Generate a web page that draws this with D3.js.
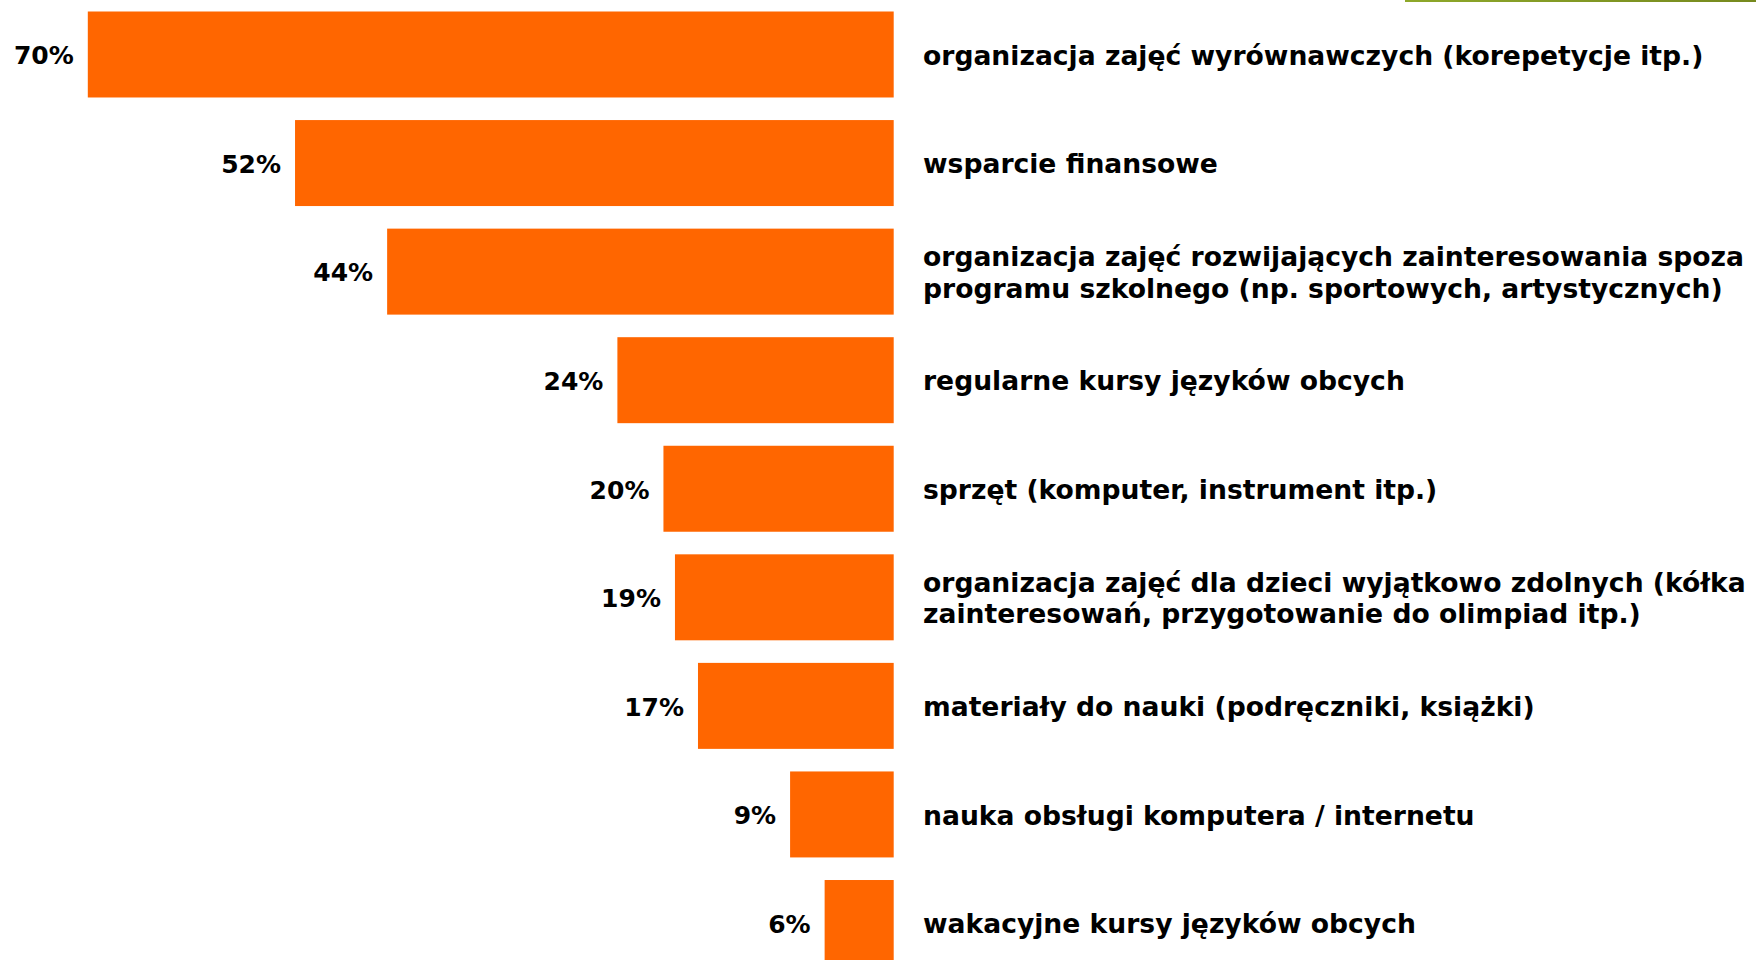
<!DOCTYPE html>
<html>
<head>
<meta charset="utf-8">
<script src="https://cdn.jsdelivr.net/npm/d3@7"></script>
<style>
  html, body { margin: 0; padding: 0; background: #fff; }
  svg { display: block; }
  text { font-family: Verdana, "DejaVu Sans", sans-serif; font-weight: bold; fill: #000; }
</style>
</head>
<body>
<svg width="1756" height="960"></svg>
<script>
// categories, top to bottom (multi-line labels split with |)
var categories = [
  "organizacja zajęć wyrównawczych (korepetycje itp.)",
  "wsparcie finansowe",
  "organizacja zajęć rozwijających zainteresowania spoza|programu szkolnego (np. sportowych, artystycznych)",
  "regularne kursy języków obcych",
  "sprzęt (komputer, instrument itp.)",
  "organizacja zajęć dla dzieci wyjątkowo zdolnych (kółka|zainteresowań, przygotowanie do olimpiad itp.)",
  "materiały do nauki (podręczniki, książki)",
  "nauka obsługi komputera / internetu",
  "wakacyjne kursy języków obcych"
];
var values = [70, 52, 44, 24, 20, 19, 17, 9, 6];

var svg = d3.select("svg");

var x = d3.scaleLinear()
    .domain([0, 70])
    .range([893.7, 87.8]);

var y = d3.scaleBand()
    .domain(categories)
    .range([11.5, 966])
    .paddingInner(0.208)
    .paddingOuter(0);

var data = categories.map(function(c, i) { return {cat: c, value: values[i]}; });

// green accent line top right
var defs = svg.append("defs");
var grad = defs.append("linearGradient").attr("id", "green");
grad.append("stop").attr("offset", "0%").attr("stop-color", "#8ea82a");
grad.append("stop").attr("offset", "100%").attr("stop-color", "#76891e");
svg.append("rect")
    .attr("x", 1405).attr("y", 0)
    .attr("width", 351).attr("height", 2)
    .attr("fill", "url(#green)");

svg.append("g")
    .selectAll("rect")
    .data(data)
    .enter().append("rect")
    .attr("x", function(d) { return x(d.value); })
    .attr("y", function(d) { return y(d.cat); })
    .attr("width", function(d) { return x(0) - x(d.value); })
    .attr("height", y.bandwidth())
    .attr("fill", "#ff6600");

// value labels
svg.append("g")
    .selectAll("text")
    .data(data)
    .enter().append("text")
    .attr("x", function(d) { return x(d.value) - 14; })
    .attr("y", function(d) { return y(d.cat) + y.bandwidth() / 2 + 1; })
    .attr("dy", "0.35em")
    .style("text-anchor", "end")
    .style("font-size", "25px")
    .text(function(d) { return d.value + "%"; });

// category labels
var fs = 26.6;
var lab = svg.append("g")
    .selectAll("text")
    .data(data)
    .enter().append("text")
    .attr("x", 923)
    .attr("y", function(d) { return y(d.cat) + y.bandwidth() / 2 + 1; })
    .style("font-size", fs + "px");

lab.each(function(d) {
    var lines = d.cat.split("|");
    var t = d3.select(this);
    var lh = 31.5;
    lines.forEach(function(l, i) {
        t.append("tspan")
            .attr("x", 923)
            .attr("dy", i == 0 ? (0.35 * fs - (lines.length - 1) * lh / 2) + "px" : lh + "px")
            .text(l);
    });
});
</script>
</body>
</html>
